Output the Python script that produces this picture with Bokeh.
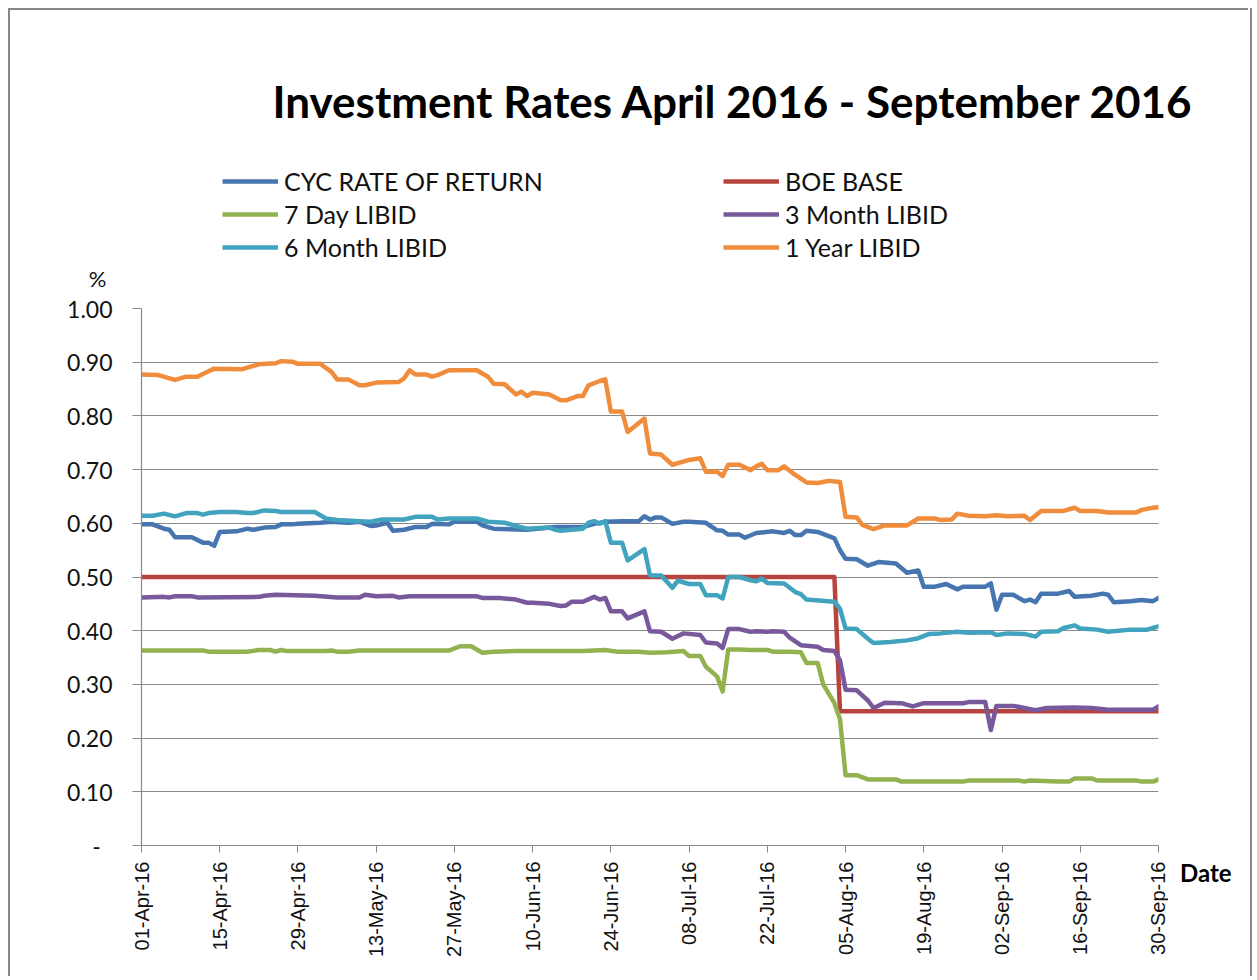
import pandas as pd
from math import pi
from bokeh.plotting import figure
from bokeh.layouts import column, row
from bokeh.models import (Range1d, FixedTicker, DatetimeTickFormatter, CustomJSTickFormatter,
                          Legend, LegendItem, Label, Div)
from bokeh.embed import file_html
from bokeh.resources import INLINE

# ---------------- data ----------------
TITLE = "Investment Rates April 2016 - September 2016"
Y_LABEL = "%"
X_LABEL = "Date"
START = "2016-04-01"          # day 0
END = "2016-09-30"
x_tick_labels = ["01-Apr-16", "15-Apr-16", "29-Apr-16", "13-May-16", "27-May-16", "10-Jun-16",
                 "24-Jun-16", "08-Jul-16", "22-Jul-16", "05-Aug-16", "19-Aug-16", "02-Sep-16",
                 "16-Sep-16", "30-Sep-16"]
y_ticks = [0.0, 0.1, 0.2, 0.3, 0.4, 0.5, 0.6, 0.7, 0.8, 0.9, 1.0]

names = ["CYC RATE OF RETURN", "BOE BASE", "7 Day LIBID", "3 Month LIBID", "6 Month LIBID", "1 Year LIBID"]

# days since 01-Apr-16, rate in %
cyc_day = [0,2,4,5,6,9,11,12,13,14,17,19,20,22,24,25,27,28,32,34,37,39,41,42,44,45,47,49,51,52,
           55,56,60,61,63,69,74,79,81,83,86,89,90,91,92,93,95,97,98,101,103,104,105,107,108,110,
           113,115,116,117,118,119,121,123,124,125,126,128,130,132,135,137,139,140,142,144,146,147,
           151,152,153,154,156,158,159,160,161,164,166,167,170,172,173,174,177,179,181,182]
cyc_val = [0.598,0.598,0.590,0.588,0.574,0.574,0.564,0.564,0.558,0.584,0.585,0.590,0.588,0.592,0.593,
           0.598,0.598,0.599,0.601,0.603,0.601,0.603,0.595,0.596,0.601,0.586,0.588,0.593,0.593,0.599,
           0.598,0.603,0.603,0.596,0.590,0.588,0.593,0.593,0.599,0.603,0.604,0.604,0.613,0.607,0.611,
           0.611,0.599,0.603,0.603,0.601,0.587,0.586,0.579,0.579,0.573,0.582,0.585,0.582,0.586,0.578,
           0.578,0.586,0.584,0.576,0.572,0.550,0.534,0.533,0.521,0.528,0.525,0.508,0.512,0.482,0.482,
           0.487,0.477,0.482,0.482,0.488,0.439,0.467,0.467,0.455,0.458,0.453,0.469,0.469,0.474,0.463,
           0.465,0.469,0.467,0.453,0.455,0.457,0.455,0.461]

boe_day = [0, 124, 125, 182]
boe_val = [0.50, 0.50, 0.25, 0.25]

d7_day = [0,11,12,19,21,23,24,25,26,33,34,35,37,39,55,57,59,61,63,67,79,83,85,89,91,94,97,98,100,101,
          103,104,105,107,109,112,113,116,118,119,121,122,124,125,126,128,130,135,136,147,148,157,158,
          159,164,166,167,170,171,178,179,181,182]
d7_val = [0.363,0.363,0.361,0.361,0.364,0.364,0.361,0.364,0.362,0.362,0.363,0.361,0.361,0.363,0.363,
          0.371,0.371,0.359,0.361,0.362,0.362,0.364,0.361,0.361,0.359,0.360,0.362,0.353,0.353,0.333,
          0.315,0.287,0.365,0.365,0.364,0.364,0.361,0.361,0.360,0.340,0.340,0.300,0.265,0.235,0.131,
          0.131,0.123,0.123,0.119,0.119,0.121,0.121,0.119,0.121,0.119,0.119,0.125,0.125,0.121,0.121,
          0.119,0.119,0.123]

m3_day = [0,4,5,6,9,10,21,22,24,31,35,39,40,42,45,46,48,60,61,64,67,69,70,73,75,76,77,79,81,82,83,84,
          86,87,90,91,93,95,97,100,101,103,104,105,107,109,110,112,113,115,116,118,121,122,124,125,
          126,128,130,131,133,136,138,140,147,148,151,152,153,156,158,160,162,167,170,173,181,182]
m3_val = [0.462,0.463,0.462,0.464,0.464,0.462,0.463,0.465,0.467,0.465,0.462,0.462,0.467,0.464,0.465,
          0.462,0.464,0.464,0.461,0.461,0.458,0.452,0.452,0.450,0.446,0.447,0.454,0.454,0.463,0.458,
          0.461,0.436,0.436,0.423,0.436,0.399,0.398,0.385,0.395,0.392,0.378,0.376,0.368,0.403,0.403,
          0.398,0.399,0.398,0.399,0.398,0.387,0.373,0.370,0.364,0.362,0.345,0.290,0.289,0.270,0.256,
          0.266,0.265,0.259,0.265,0.265,0.267,0.267,0.215,0.260,0.260,0.256,0.252,0.256,0.257,0.256,
          0.253,0.253,0.259]

m6_day = [0,2,4,6,8,10,11,12,14,17,19,20,22,24,25,31,33,35,39,41,43,47,49,52,53,55,60,62,65,67,69,73,
          74,75,77,79,80,81,82,83,84,86,87,90,91,93,95,96,98,100,101,103,104,105,107,109,110,111,112,
          115,117,118,119,124,125,126,128,130,131,134,137,139,141,143,146,148,152,153,155,158,160,161,
          164,165,167,168,171,173,177,180,181,182]
m6_val = [0.614,0.614,0.618,0.613,0.619,0.619,0.616,0.619,0.621,0.621,0.619,0.619,0.624,0.623,0.621,
          0.621,0.609,0.606,0.604,0.603,0.607,0.607,0.612,0.612,0.607,0.609,0.609,0.603,0.601,0.595,
          0.590,0.592,0.588,0.586,0.588,0.590,0.601,0.604,0.599,0.604,0.564,0.564,0.531,0.552,0.503,
          0.503,0.480,0.493,0.487,0.487,0.466,0.466,0.460,0.500,0.500,0.494,0.492,0.497,0.489,0.488,
          0.472,0.468,0.458,0.454,0.441,0.404,0.403,0.385,0.377,0.379,0.382,0.386,0.394,0.395,0.398,
          0.396,0.397,0.392,0.395,0.394,0.389,0.398,0.399,0.405,0.410,0.404,0.402,0.398,0.402,0.402,
          0.405,0.408]

y1_day = [0,3,6,8,10,12,13,18,21,24,25,27,28,32,34,35,37,39,40,42,46,47,48,49,51,52,53,55,60,62,63,65,
          67,68,69,70,73,75,76,78,79,80,82,83,84,86,87,90,91,93,95,98,100,101,103,104,105,107,109,110,
          111,112,114,115,117,119,121,123,125,126,128,129,131,133,137,139,142,143,145,146,148,151,153,
          155,158,159,161,165,167,168,171,173,178,179,181,182]
y1_val = [0.877,0.876,0.867,0.873,0.873,0.883,0.888,0.887,0.896,0.898,0.902,0.901,0.897,0.897,0.882,
          0.868,0.868,0.857,0.857,0.862,0.863,0.870,0.885,0.877,0.877,0.873,0.876,0.885,0.885,0.873,
          0.860,0.859,0.840,0.845,0.837,0.843,0.840,0.829,0.829,0.837,0.837,0.857,0.865,0.868,0.808,
          0.808,0.770,0.795,0.730,0.728,0.709,0.718,0.721,0.696,0.696,0.688,0.709,0.709,0.699,0.706,
          0.711,0.699,0.699,0.706,0.690,0.676,0.675,0.679,0.677,0.612,0.611,0.597,0.589,0.596,0.596,
          0.609,0.609,0.606,0.607,0.618,0.614,0.613,0.615,0.613,0.614,0.606,0.623,0.623,0.629,0.623,
          0.623,0.620,0.620,0.625,0.629,0.630]

series_days = [cyc_day, boe_day, d7_day, m3_day, m6_day, y1_day]
series_vals = [cyc_val, boe_val, d7_val, m3_val, m6_val, y1_val]
colors = ["#4675B0", "#B8443F", "#91B24F", "#77599C", "#41A3BE", "#EF8D3C"]
LW = 4.5

# ---------------- styling ----------------
start = pd.Timestamp(START)
end = pd.Timestamp(END)
GRID = "#898989"
FRAME = "2px solid #878787"
TXT = "#111111"
series_x = [[start + pd.Timedelta(days=k) for k in d] for d in series_days]

# ---------------- header: title, legend, "%" ----------------
# its y range lies above every rate, so the series drawn here only feed the legend samples
header = figure(width=1240, height=286, x_range=Range1d(start, end), y_range=Range1d(2, 3),
                min_border=0, x_axis_location=None, y_axis_location=None,
                output_backend="svg", toolbar_location=None)
header.grid.visible = False
header.outline_line_color = None
header.background_fill_color = "white"
header.border_fill_color = "white"
header.styles = {"border-top": FRAME, "border-left": FRAME}

header.add_layout(Label(x=262, y=196, x_units="screen", y_units="screen", text=TITLE,
                        text_font="Lato", text_font_style="bold", text_font_size="44px",
                        text_color="black", text_baseline="alphabetic", text_align="left"))
header.add_layout(Label(x=87, y=18, x_units="screen", y_units="screen", text=Y_LABEL,
                        text_font="Lato", text_font_size="22px", text_color=TXT,
                        text_baseline="middle", text_align="center"))

samples = [header.line(x, v, line_color=c, line_width=LW)
           for x, v, c in zip(series_x, series_vals, colors)]
order = [0, 2, 4, 1, 3, 5]   # column-major: left column then right column
legend = Legend(items=[LegendItem(label=names[i], renderers=[samples[i]]) for i in order],
                location=(212, 34), orientation="vertical", ncols=2,
                label_text_font="Lato", label_text_font_size="25px", label_text_color=TXT,
                glyph_width=56, glyph_height=22, label_height=22, label_width=436,
                label_standoff=6, spacing=3, padding=0, margin=0,
                border_line_alpha=0, background_fill_alpha=0)
header.add_layout(legend)

# ---------------- main chart ----------------
p = figure(x_axis_type="datetime", x_range=Range1d(start, end), y_range=Range1d(0, 1.0),
           frame_width=1015, frame_height=537,
           min_border_left=131, min_border_right=12, min_border_top=14, min_border_bottom=131,
           output_backend="svg", toolbar_location=None)
p.styles = {"border-left": FRAME}
p.outline_line_color = None
p.background_fill_color = "white"
p.border_fill_color = "white"
p.xgrid.grid_line_color = None
p.ygrid.grid_line_color = GRID
p.ygrid.grid_line_width = 1.2

for x, v, c in zip(series_x, series_vals, colors):
    p.line(x, v, line_color=c, line_width=LW, line_join="round", line_cap="round")

tick_dates = pd.to_datetime(x_tick_labels, format="%d-%b-%y")
p.xaxis.ticker = FixedTicker(ticks=[t.timestamp() * 1000 for t in tick_dates])
fmt = "%d-%b-%y"
p.xaxis.formatter = DatetimeTickFormatter(milliseconds=fmt, seconds=fmt, minsec=fmt, minutes=fmt,
                                          hourmin=fmt, hours=fmt, days=fmt, months=fmt, years=fmt)
p.xaxis.major_label_orientation = pi / 2
p.xaxis.major_label_text_font = "Liberation Sans"
p.xaxis.major_label_text_font_size = "20px"
p.xaxis.major_label_text_color = TXT
p.xaxis.major_label_standoff = 9
p.xaxis.major_tick_out = 7
p.xaxis.major_tick_in = 0
p.xaxis.minor_tick_line_color = None
p.xaxis.axis_line_color = GRID
p.xaxis.axis_line_width = 1.2
p.xaxis.major_tick_line_color = GRID

p.yaxis.ticker = FixedTicker(ticks=y_ticks)
p.yaxis.formatter = CustomJSTickFormatter(
    code="return Math.abs(tick) < 1e-9 ? '-\u00a0\u00a0' : tick.toFixed(2);")
p.yaxis.major_label_text_font = "Lato"
p.yaxis.major_label_text_font_size = "23px"
p.yaxis.major_label_text_color = TXT
p.yaxis.major_label_standoff = 20
p.yaxis.major_tick_out = 9
p.yaxis.major_tick_in = 0
p.yaxis.minor_tick_line_color = None
p.yaxis.axis_line_color = GRID
p.yaxis.axis_line_width = 1.2
p.yaxis.major_tick_line_color = GRID

# ---------------- right strip: "Date" ----------------
side = Div(text=('<div style="margin-top:567px;margin-left:12px;font-family:Lato;'
                 'font-weight:bold;font-size:24px;line-height:24px;color:black;">'
                 + X_LABEL + '</div>'),
           width=82, height=682, margin=0)

layout = column(header, row(p, side, spacing=0), spacing=0,
                styles={"margin-left": "8px", "margin-top": "8px", "border-right": FRAME})

open("out.html", "w").write(file_html(layout, INLINE))
